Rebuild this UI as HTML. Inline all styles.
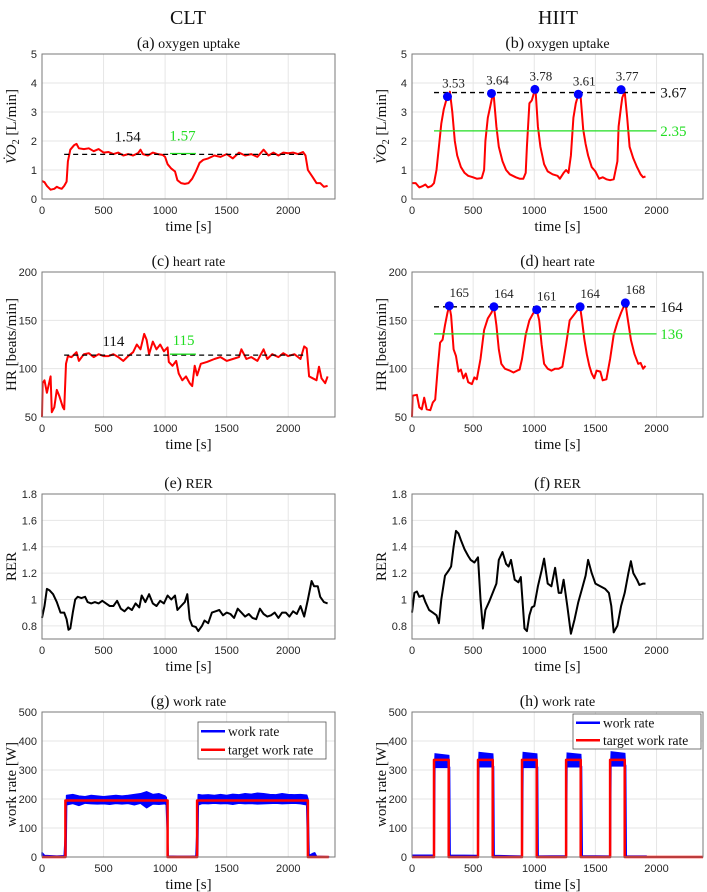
<!DOCTYPE html>
<html><head><meta charset="utf-8"><style>
body{margin:0;background:#fff;}
svg{display:block;}
.tick{font-family:"Liberation Sans",sans-serif;font-size:11px;fill:#262626;}
.ser{font-family:"Liberation Serif",serif;fill:#111;}
</style></head><body>
<svg id="fig" width="707" height="892" viewBox="0 0 707 892" xmlns="http://www.w3.org/2000/svg">
<text class="ser" x="188" y="24" text-anchor="middle" font-size="20">CLT</text>
<text class="ser" x="558" y="24" text-anchor="middle" font-size="20">HIIT</text>
</svg>
<script>
// ---- data ----
const vo2CltT=[0,20,40,70,100,120,140,160,180,200,210,230,260,280,300,340,380,420,460,500,540,580,620,660,700,740,780,800,820,860,900,940,980,1000,1020,1050,1080,1100,1130,1160,1190,1220,1250,1280,1310,1350,1400,1450,1500,1550,1600,1650,1700,1750,1800,1840,1880,1920,1960,2000,2040,2080,2120,2140,2160,2200,2230,2260,2290,2320];
const vo2CltV=[0.62,0.58,0.45,0.32,0.35,0.42,0.38,0.35,0.45,0.6,1.3,1.7,1.85,1.9,1.75,1.72,1.75,1.65,1.72,1.6,1.62,1.55,1.6,1.5,1.55,1.5,1.58,1.7,1.55,1.5,1.6,1.55,1.52,1.45,1.2,1.05,0.95,0.65,0.55,0.52,0.55,0.7,0.95,1.25,1.35,1.4,1.5,1.45,1.55,1.4,1.6,1.5,1.55,1.45,1.7,1.5,1.6,1.5,1.6,1.58,1.6,1.55,1.62,1.5,1.0,0.75,0.55,0.55,0.42,0.45];
const vo2CltMean=[1.54,1.57];
const vo2HiitT=[0,30,60,90,110,130,160,180,200,220,240,260,280,290,300,310,330,350,370,400,430,460,500,530,570,590,600,620,640,660,670,690,710,740,770,800,850,880,910,930,940,960,980,1000,1010,1030,1050,1080,1110,1150,1190,1210,1240,1260,1280,1300,1320,1340,1360,1380,1400,1420,1440,1470,1500,1530,1560,1590,1620,1650,1680,1690,1710,1720,1740,1760,1780,1810,1840,1870,1890,1910];
const vo2HiitV=[0.55,0.55,0.4,0.45,0.5,0.4,0.45,0.55,1.0,1.8,2.6,3.1,3.4,3.5,3.5,3.7,3.0,2.0,1.5,1.1,0.9,0.8,0.75,0.7,0.72,1.0,2.0,2.8,3.2,3.6,3.5,2.5,1.8,1.3,1.0,0.85,0.75,0.7,0.7,0.9,1.8,3.3,3.4,3.7,3.78,2.5,1.8,1.2,0.95,0.85,0.8,0.7,0.9,1.0,0.9,1.5,2.8,3.3,3.6,3.5,2.4,1.9,1.5,1.1,0.95,0.7,0.75,0.68,0.65,0.68,1.3,2.5,3.2,3.5,3.7,2.8,1.8,1.4,1.1,0.85,0.75,0.78];
const vo2PeakT=[290,650,1005,1360,1710];
const vo2PeakV=[3.53,3.64,3.78,3.61,3.77];
const vo2HiitMean=[3.67,2.35];

const hrCltT=[0,5,20,40,70,80,100,120,140,170,180,195,210,240,280,300,340,380,420,460,500,540,580,620,660,700,740,770,800,830,850,870,900,930,960,990,1020,1030,1060,1090,1110,1140,1170,1200,1220,1240,1260,1290,1340,1400,1450,1500,1550,1600,1620,1660,1700,1750,1800,1830,1870,1920,1960,2000,2050,2100,2130,2150,2170,2200,2230,2250,2270,2300,2320];
const hrCltV=[50,85,88,75,92,55,60,78,72,60,58,105,113,112,117,108,115,116,112,115,113,113,115,112,108,113,117,125,120,136,130,115,128,120,125,118,122,107,103,108,95,88,92,85,82,103,93,105,107,110,112,108,110,112,120,110,112,108,120,110,115,112,116,113,115,110,123,121,92,90,88,102,90,85,92];
const hrCltMean=[114,115];
const hrHiitT=[0,5,40,60,80,100,120,150,170,190,210,230,250,270,290,305,320,340,360,380,400,420,440,460,490,510,530,560,590,620,650,670,690,710,730,760,800,830,860,880,900,930,960,990,1020,1040,1060,1080,1110,1140,1170,1200,1230,1260,1290,1320,1350,1375,1390,1410,1430,1450,1470,1490,1510,1540,1560,1590,1620,1650,1680,1710,1745,1760,1790,1820,1850,1870,1890,1910];
const hrHiitV=[50,72,73,60,58,70,58,57,65,68,100,127,130,145,158,165,155,120,113,97,99,90,95,86,84,91,89,110,140,152,158,164,145,120,105,100,98,96,98,99,110,135,150,157,161,150,125,105,100,98,100,100,102,125,150,155,160,164,150,130,115,103,95,90,98,97,88,89,110,135,148,158,168,155,130,115,105,106,100,103];
const hrPeakT=[305,670,1020,1375,1745];
const hrPeakV=[165,164,161,164,168];
const hrHiitMean=[164,136];

const rerCltT=[0,20,40,60,90,120,150,180,200,215,230,250,270,290,320,350,370,400,430,460,490,520,550,580,610,640,670,700,730,760,790,810,840,870,900,930,960,990,1020,1050,1080,1100,1130,1160,1180,1200,1220,1250,1270,1300,1320,1350,1380,1410,1440,1470,1500,1530,1560,1590,1620,1650,1680,1710,1740,1770,1800,1830,1860,1890,1920,1950,1980,2010,2040,2070,2100,2130,2160,2190,2210,2240,2260,2290,2320];
const rerCltV=[0.86,0.95,1.08,1.07,1.04,0.98,0.9,0.9,0.85,0.77,0.78,0.9,1.0,1.02,1.01,1.02,0.98,0.97,0.98,0.97,0.99,0.97,0.95,0.95,0.99,0.93,0.91,0.94,0.92,0.97,0.94,1.03,0.98,1.04,0.97,0.95,0.99,0.97,1.03,1.0,1.03,0.92,0.95,0.98,1.04,0.85,0.8,0.79,0.76,0.8,0.84,0.82,0.9,0.91,0.92,0.88,0.9,0.89,0.86,0.93,0.9,0.87,0.89,0.86,0.85,0.93,0.89,0.87,0.88,0.9,0.86,0.9,0.9,0.87,0.91,0.89,0.95,0.87,1.0,1.14,1.1,1.1,1.02,0.98,0.97];
const rerHiitT=[0,20,40,60,90,110,140,170,200,220,240,270,300,320,340,360,380,400,430,460,480,510,540,560,580,600,630,660,690,710,740,770,790,810,840,870,890,920,940,960,980,1000,1030,1060,1080,1110,1140,1170,1200,1220,1240,1270,1300,1330,1360,1390,1420,1440,1470,1500,1540,1580,1610,1630,1650,1680,1710,1740,1770,1790,1810,1840,1860,1890,1910];
const rerHiitV=[0.9,1.05,1.06,1.02,1.03,0.98,0.92,0.9,0.88,0.82,1.0,1.18,1.22,1.25,1.4,1.52,1.5,1.45,1.38,1.33,1.3,1.28,1.32,1.0,0.78,0.92,0.98,1.05,1.12,1.3,1.36,1.27,1.25,1.3,1.15,1.13,1.17,0.78,0.76,0.88,0.94,0.95,1.1,1.22,1.31,1.12,1.1,1.24,1.05,1.05,1.15,0.95,0.74,0.85,0.98,1.08,1.18,1.3,1.2,1.12,1.1,1.08,1.05,0.95,0.75,0.8,0.95,1.05,1.2,1.29,1.2,1.15,1.11,1.12,1.12];

const wrCltStart=[190,1260];
const wrCltEnd=[1020,2160];
const wrCltLevel=[195,195];
const wrCltT=[0,20,60,120,180,195,200,250,300,350,400,450,500,550,600,650,700,750,800,850,900,950,1000,1010,1025,1100,1200,1250,1265,1270,1300,1350,1400,1450,1500,1550,1600,1650,1700,1750,1800,1850,1900,1950,2000,2050,2100,2150,2160,2170,2200,2215,2230,2330];
const wrCltUp=[15,5,4,3,4,120,212,215,210,208,212,210,208,210,212,210,212,215,218,225,215,218,210,205,3,2,2,3,150,215,213,214,212,215,212,216,214,218,216,220,218,215,214,218,215,214,215,213,200,5,12,14,2,1];
const wrCltLo=[5,0,0,0,0,0,180,185,178,186,184,183,184,182,185,183,185,180,186,170,183,182,184,180,0,0,0,0,0,180,185,184,186,184,185,182,186,184,185,183,184,185,186,184,185,186,184,180,0,0,0,0,0,0];

const wrHiitStart=[180,540,900,1260,1620];
const wrHiitEnd=[300,660,1020,1380,1740];
const wrHiitLevel=[335,335,335,335,335];
const wrHiitUp=[355,360,360,358,362];
const wrHiitLo=[310,312,310,312,315];
const wrHiitRest=[5,4,2,3,2];

const xTicks=[0,500,1000,1500,2000];
const vo2Ticks=[0,1,2,3,4,5];
const hrTicks=[50,100,150,200];
const rerTicks=[0.8,1,1.2,1.4,1.6,1.8];
const wrTicks=[0,100,200,300,400,500];

// ---- drawing ----
const NS='http://www.w3.org/2000/svg';
const svg=document.getElementById('fig');
const XMAX=2380;
function mk(tag,attrs,parent){const e=document.createElementNS(NS,tag);for(const k in attrs)e.setAttribute(k,attrs[k]);(parent||svg).appendChild(e);return e;}
function axes(key,col,row,ymin,ymax,yticks,tLetter,tText,ylabelFn){
  const x0=col===0?42:412,x1=col===0?335:703;
  const tops=[54,272,494,712];
  const y0=tops[row],y1=y0+145;
  const g=mk('g',{});
  
  
  const sx=v=>x0+(v/XMAX)*(x1-x0);
  const sy=v=>y1-(v-ymin)/(ymax-ymin)*(y1-y0);
  mk('rect',{x:x0,y:y0,width:x1-x0,height:y1-y0,fill:'#fff'},g);
  xTicks.forEach(t=>{
    const l=mk('line',{x1:sx(t),x2:sx(t),y1:y0,y2:y1,stroke:'#e6e6e6','stroke-width':1},g);
    
    
    const tx=mk('text',{x:sx(t),y:y1+15,'text-anchor':'middle',class:'tick'},g);
    tx.textContent=t;
    
    
  });
  yticks.forEach(t=>{
    const l=mk('line',{x1:x0,x2:x1,y1:sy(t),y2:sy(t),stroke:'#e6e6e6','stroke-width':1},g);
    
    
    const tx=mk('text',{x:x0-5,y:sy(t)+4,'text-anchor':'end',class:'tick'},g);
    tx.textContent=t;
    
    
  });
  const ti=mk('text',{x:(x0+x1)/2,y:y0-6,'text-anchor':'middle',class:'ser'},g);
  ti.innerHTML='<tspan font-size="16">('+tLetter+')</tspan><tspan font-size="14"> '+tText+'</tspan>';
  
  
  const xl=mk('text',{x:(x0+x1)/2,y:y1+32,'text-anchor':'middle',class:'ser','font-size':15},g);
  xl.textContent='time [s]';
  
  
  const cy=(y0+y1)/2,cx=x0-26;
  const yl=mk('text',{x:cx,y:cy,'text-anchor':'middle',class:'ser','font-size':15,transform:'rotate(-90 '+cx+' '+cy+')'},g);
  yl.innerHTML=ylabelFn;
  
  
  const plot=mk('g',{},g);
  
  
  const box=mk('rect',{x:x0,y:y0,width:x1-x0,height:y1-y0,fill:'none',stroke:'#7a7a7a','stroke-width':1},g);
  
  
  return {sx,sy,plot,g,x0,x1,y0,y1};
}
function line(ax,T,V,color,w,name){
  const d=T.map((t,i)=>(i?'L':'M')+ax.sx(t).toFixed(1)+' '+ax.sy(V[i]).toFixed(1)).join(' ');
  const p=mk('path',{d:d,fill:'none',stroke:color,'stroke-width':w,'stroke-linejoin':'round'},ax.plot);
  
  
  return p;
}
function hline(ax,t0,t1,v,color,dash,name){
  const l=mk('line',{x1:ax.sx(t0),x2:ax.sx(t1),y1:ax.sy(v),y2:ax.sy(v),stroke:color,'stroke-width':1.3},ax.plot);
  if(dash)l.setAttribute('stroke-dasharray','5 4');
  
  
}
function label(ax,x,y,txt,color,anchor,size,name){
  const t=mk('text',{x:x,y:y,fill:color,'text-anchor':anchor,'font-size':size,'font-family':'"Liberation Serif",serif'},ax.plot);
  t.textContent=txt;
  
  
}
const vo2Lab='<tspan font-style="italic">V̇O</tspan><tspan font-size="10" dy="3">2</tspan><tspan dy="-3"> [L/min]</tspan>';

// (a)
let a=axes('vo2-clt',0,0,0,5,vo2Ticks,'a','oxygen uptake',vo2Lab);
line(a,vo2CltT,vo2CltV,'#ff0000',2,'vo2-clt-line');
hline(a,180,2140,vo2CltMean[0],'#000',true,'vo2-clt-mean-line');
hline(a,1040,1250,vo2CltMean[1],'#22dd22',false,'vo2-clt-mean-segment');
label(a,a.sx(696),a.sy(vo2CltMean[0])-13,vo2CltMean[0].toFixed(2),'#111','middle',15,'vo2-clt-mean-label');
label(a,a.sx(1141),a.sy(vo2CltMean[1])-13,vo2CltMean[1].toFixed(2),'#22dd22','middle',15,'vo2-clt-segment-label');

// (b)
let b=axes('vo2-hiit',1,0,0,5,vo2Ticks,'b','oxygen uptake',vo2Lab);
line(b,vo2HiitT,vo2HiitV,'#ff0000',2,'vo2-hiit-line');
hline(b,180,2000,vo2HiitMean[0],'#000',true,'vo2-hiit-peak-mean-line');
hline(b,180,2000,vo2HiitMean[1],'#22dd22',false,'vo2-hiit-mean-line');
label(b,b.sx(2030),b.sy(vo2HiitMean[0])+5,vo2HiitMean[0].toFixed(2),'#111','start',15,'vo2-hiit-peak-mean-label');
label(b,b.sx(2030),b.sy(vo2HiitMean[1])+5,vo2HiitMean[1].toFixed(2),'#22dd22','start',15,'vo2-hiit-mean-label');
vo2PeakT.forEach((t,i)=>{
  const c=mk('circle',{cx:b.sx(t),cy:b.sy(vo2PeakV[i]),r:4.5,fill:'#0000ff'},b.plot);
  
  
  label(b,b.sx(t)+6,b.sy(vo2PeakV[i])-9,vo2PeakV[i].toFixed(2),'#222','middle',13,'vo2-peak-label');
});

// (c)
let c=axes('hr-clt',0,1,50,200,hrTicks,'c','heart rate','HR [beats/min]');
line(c,hrCltT,hrCltV,'#ff0000',2,'hr-clt-line');
hline(c,180,2140,hrCltMean[0],'#000',true,'hr-clt-mean-line');
hline(c,1040,1250,hrCltMean[1],'#22dd22',false,'hr-clt-mean-segment');
label(c,c.sx(580),c.sy(hrCltMean[0])-9,String(hrCltMean[0]),'#111','middle',15,'hr-clt-mean-label');
label(c,c.sx(1150),c.sy(hrCltMean[1])-9,String(hrCltMean[1]),'#22dd22','middle',15,'hr-clt-segment-label');

// (d)
let d=axes('hr-hiit',1,1,50,200,hrTicks,'d','heart rate','HR [beats/min]');
line(d,hrHiitT,hrHiitV,'#ff0000',2,'hr-hiit-line');
hline(d,180,2000,hrHiitMean[0],'#000',true,'hr-hiit-peak-mean-line');
hline(d,180,2000,hrHiitMean[1],'#22dd22',false,'hr-hiit-mean-line');
label(d,d.sx(2030),d.sy(hrHiitMean[0])+5,String(hrHiitMean[0]),'#111','start',15,'hr-hiit-peak-mean-label');
label(d,d.sx(2030),d.sy(hrHiitMean[1])+5,String(hrHiitMean[1]),'#22dd22','start',15,'hr-hiit-mean-label');
hrPeakT.forEach((t,i)=>{
  const m=mk('circle',{cx:d.sx(t),cy:d.sy(hrPeakV[i]),r:4.5,fill:'#0000ff'},d.plot);
  
  
  label(d,d.sx(t)+10,d.sy(hrPeakV[i])-9,String(hrPeakV[i]),'#222','middle',13,'hr-peak-label');
});

// (e),(f)
let e=axes('rer-clt',0,2,0.7,1.8,rerTicks,'e','RER','RER');
line(e,rerCltT,rerCltV,'#000',2,'rer-clt-line');
let f=axes('rer-hiit',1,2,0.7,1.8,rerTicks,'f','RER','RER');
line(f,rerHiitT,rerHiitV,'#000',2,'rer-hiit-line');

// (g)
let g=axes('wr-clt',0,3,0,500,wrTicks,'g','work rate','work rate [W]');
{
  const up=wrCltT.map((t,i)=>g.sx(t).toFixed(1)+','+g.sy(wrCltUp[i]).toFixed(1));
  const lo=wrCltT.map((t,i)=>g.sx(t).toFixed(1)+','+g.sy(wrCltLo[i]).toFixed(1)).reverse();
  const p=mk('polygon',{points:up.concat(lo).join(' '),fill:'#0000ff',stroke:'#0000ff','stroke-width':1.5,'stroke-linejoin':'round'},g.plot);
  
  
  let T=[0],V=[0];
  wrCltStart.forEach((s,i)=>{T.push(s,s,wrCltEnd[i],wrCltEnd[i]);V.push(0,wrCltLevel[i],wrCltLevel[i],0);});
  T.push(2330);V.push(0);
  line(g,T,V,'#ff0000',2.5,'target-work-rate-clt-line');
}
// (h)
let h=axes('wr-hiit',1,3,0,500,wrTicks,'h','work rate','work rate [W]');
{
  let pts=[[0,wrHiitRest[0]]];
  wrHiitStart.forEach((s,i)=>{
    const e1=wrHiitEnd[i];
    const p=mk('polygon',{points:[[s+5,wrHiitLo[i]],[s+10,wrHiitUp[i]],[e1,wrHiitUp[i]-5],[e1+5,wrHiitLo[i]]].map(q=>h.sx(q[0]).toFixed(1)+','+h.sy(q[1]).toFixed(1)).join(' '),fill:'#0000ff',stroke:'#0000ff','stroke-width':1.5},h.plot);
    
    
    pts.push([s,wrHiitRest[i]],[s+5,wrHiitLo[i]],[e1+5,wrHiitLo[i]],[e1+10,wrHiitRest[i]]);
  });
  pts.push([1920,2]);
  line(h,pts.map(q=>q[0]),pts.map(q=>q[1]),'#0000ff',2,'work-rate-hiit-line');
  let T=[0],V=[0];
  wrHiitStart.forEach((s,i)=>{T.push(s,s,wrHiitEnd[i],wrHiitEnd[i]);V.push(0,wrHiitLevel[i],wrHiitLevel[i],0);});
  T.push(XMAX);V.push(0);
  line(h,T,V,'#ff0000',2.5,'target-work-rate-hiit-line');
}
// legends
function legend(ax,x,y,w,hh,key){
  const lg=mk('g',{},ax.g);
  
  
  mk('rect',{x:x,y:y,width:w,height:hh,fill:'#fff',stroke:'#555','stroke-width':0.8},lg);
  const rows=[['#0000ff','work rate'],['#ff0000','target work rate']];
  rows.forEach((r,i)=>{
    const yy=y+hh*(i*2+1)/4;
    const l=mk('line',{x1:x+3,x2:x+27,y1:yy,y2:yy,stroke:r[0],'stroke-width':2.5},lg);
    
    
    const t=mk('text',{x:x+30,y:yy+4.5,class:'ser','font-size':13.5},lg);
    t.textContent=r[1];
    
    
  });
}
legend(g,198,722,128,37,'work-rate-clt-legend');
legend(h,573,714,128,35,'work-rate-hiit-legend');
</script>
</body></html>
